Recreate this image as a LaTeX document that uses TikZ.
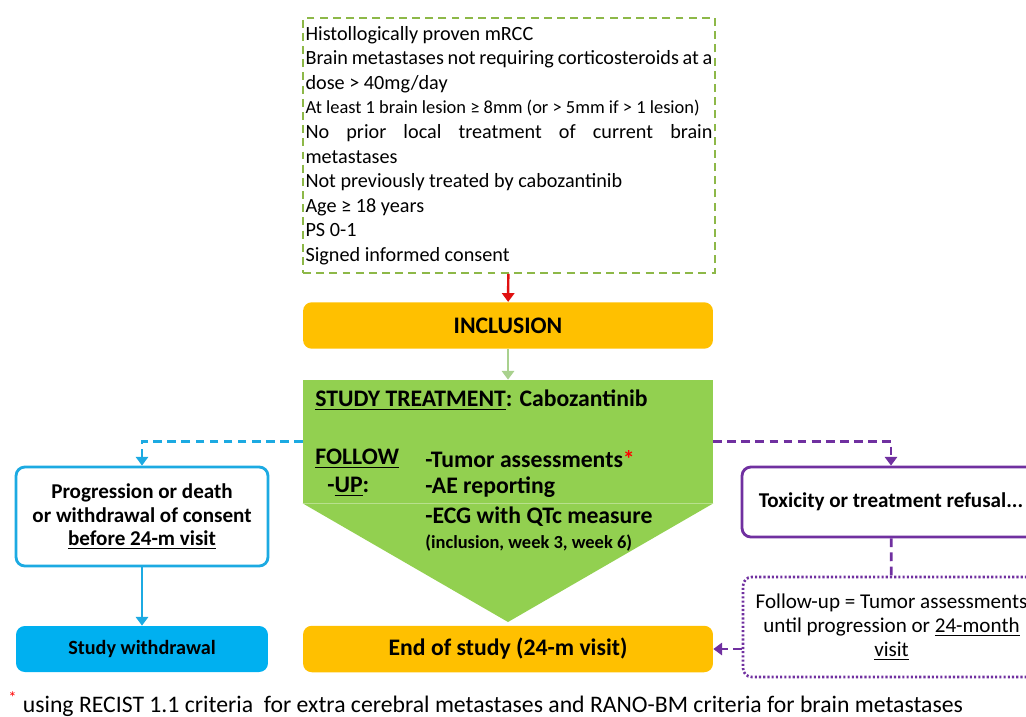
\documentclass[tikz,border=0pt]{standalone}
\usepackage{fontspec}
\setmainfont{Carlito}
\usetikzlibrary{shapes,arrows,arrows.meta,positioning,fit}

\definecolor{gold}{HTML}{FFC000}
\definecolor{lime}{HTML}{92D050}
\definecolor{palegreen}{HTML}{A9D18E}
\definecolor{olive}{HTML}{8DB848}
\definecolor{sky}{HTML}{1CAAE2}
\definecolor{skyfill}{HTML}{00B0F0}
\definecolor{plum}{HTML}{7030A0}
\definecolor{redarrow}{HTML}{E01010}

\begin{document}
\begin{tikzpicture}[x=0.02cm, y=-0.02cm, >={Triangle[width=7pt,length=5pt]}]
		\tikzstyle{Crit}	= [rectangle, draw=olive, line width=0.9pt, dash pattern=on 4.5pt off 3pt, text width=8.14cm, minimum height=5.1cm, inner xsep=0.05cm, align=justify, font=\fontsize{11.5}{14}\selectfont]
		\tikzstyle{Box}		= [rectangle, rounded corners=5pt, inner sep=0pt, align=center]
		\tikzstyle{Gold}	= [fill=gold, minimum width=8.2cm, minimum height=0.93cm, font=\bfseries\fontsize{13.5}{16}\selectfont]
		\tikzstyle{Side}	= [minimum width=5.04cm, font=\bfseries\fontsize{12}{13.6}\selectfont]
		\tikzstyle{Txt}		= [anchor=west, inner sep=0pt, font=\bfseries\fontsize{13.5}{16}\selectfont]
		\tikzstyle{Blue}	= [sky, line width=1.6pt]
		\tikzstyle{Purple}	= [plum, line width=1.6pt]
		\tikzstyle{Dash}	= [dash pattern=on 5pt off 3pt]

		\useasboundingbox (0,0) rectangle (1026,716);
		\clip (0,0) rectangle (1026,716);

		% criteria and inclusion
		\node (crit) at (509, 145.5) [Crit] {Histollogically proven mRCC\\
			Brain metastases not requiring corticosteroids at a\linebreak dose > 40mg/day\\
			{\fontsize{10.5}{14}\selectfont At least 1 brain lesion ≥ 8mm (or > 5mm if > 1 lesion)}\\
			No prior local treatment of current brain\linebreak metastases\\
			Not previously treated by cabozantinib\\
			Age ≥ 18 years\\
			PS 0-1\\
			Signed informed consent};
		\node (incl) at (508, 325.5) [Box][Gold] {INCLUSION};

		% study treatment
		\node (treat) at (508, 441.5) [rectangle, fill=lime, minimum width=8.2cm, minimum height=2.46cm, inner sep=0pt] {};
		\coordinate (tip) at (508, 622);
		\fill[lime] (treat.south west) -- (treat.south east) -- (tip) -- cycle;
		\node (t1) at (315, 400) [Txt] {\underline{STUDY TREATMENT}: Cabozantinib};
		\node (t2) at (315, 459) [Txt] {\underline{FOLLOW}};
		\node (t3) at (327, 487) [Txt] {-\underline{UP}:};
		\node (t4) at (425, 459) [Txt] {-Tumor assessments\textcolor{red}{*}};
		\node (t5) at (425, 487) [Txt] {-AE reporting};
		\node (t6) at (425, 517) [Txt] {-ECG with QTc measure};
		\node (t7) at (425, 543) [Txt, font=\bfseries\fontsize{10.5}{12}\selectfont] {(inclusion, week 3, week 6)};

		% exits
		\node (prog) at (142, 516.5) [Box][Side, draw=sky, line width=1.6pt, fill=white, minimum height=1.98cm] {Progression or death\\ or withdrawal of consent\\ \underline{before 24-m visit}};
		\node (wd) at (142, 649) [Box][Side, fill=skyfill, minimum height=0.92cm, font=\bfseries\fontsize{11.5}{13}\selectfont] {Study withdrawal};
		\node (eos) at (508, 649) [Box][Gold] {End of study (24-m visit)};
		\node (tox) at (891, 502) [Box][draw=plum, line width=1.6pt, fill=white, minimum width=5.96cm, minimum height=1.4cm, font=\bfseries\fontsize{12}{14}\selectfont] {Toxicity or treatment refusal...};
		\node (fu) at (891.5, 627) [Box][draw=plum, line width=1.5pt, dash pattern=on 1.2pt off 1.2pt, minimum width=5.94cm, minimum height=2cm, font=\fontsize{12}{13.6}\selectfont] {Follow-up = Tumor assessments\\ until progression or \underline{24-month}\\ \underline{visit}};

		\draw [->] (crit) to (incl) [redarrow, line width=1.4pt];
		\draw [->] (incl) to (treat) [palegreen, line width=1.6pt];
		\draw [->] (treat.west) -| (prog.north) [Blue, Dash];
		\draw [->] (prog) to (wd) [Blue];
		\draw [->] (treat.east) -| (tox.north) [Purple, Dash];
		\draw [-] (tox) to (fu) [Purple, Dash];
		\draw [->] (fu.west |- eos.east) to (eos.east) [Purple, Dash];

		% footnote
		\node (note) at (8, 704) [anchor=west, inner sep=0pt, font=\fontsize{13.5}{15}\selectfont] {\textcolor{red}{\textsuperscript{*}} using RECIST 1.1 criteria\ \ for extra cerebral metastases and RANO-BM criteria for brain metastases};
	\end{tikzpicture}
\end{document}
